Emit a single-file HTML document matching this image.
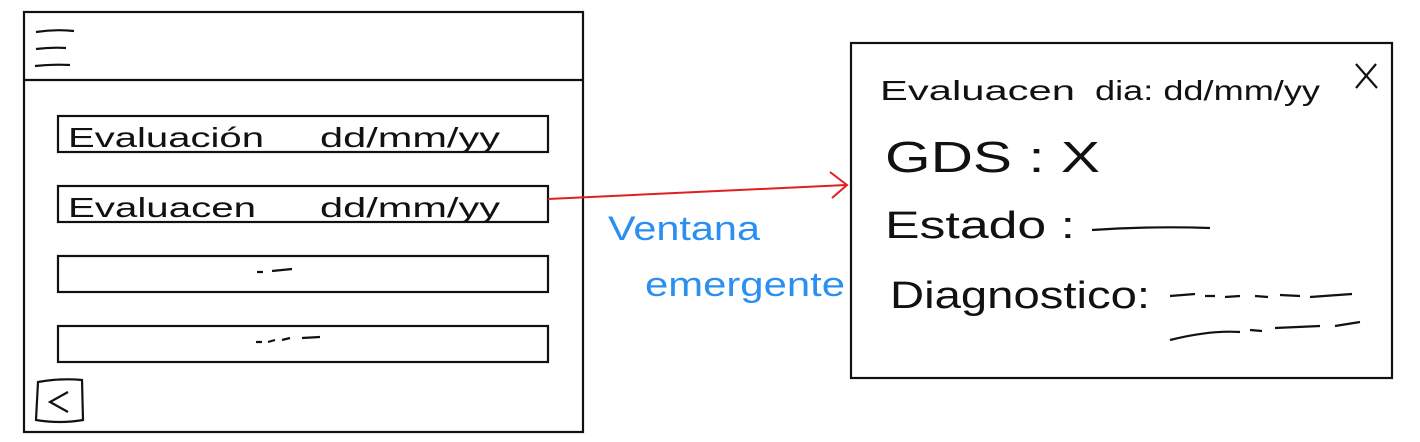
<!DOCTYPE html>
<html><head><meta charset="utf-8"><style>
html,body{margin:0;padding:0;background:#fff;width:1420px;height:442px;overflow:hidden}
svg{display:block}
text{font-family:"Liberation Sans",sans-serif;fill:#111}
</style></head><body>
<svg width="1420" height="442" viewBox="0 0 1420 442">
<g fill="none" stroke="#111" stroke-width="2.2">
<rect x="24" y="12" width="559" height="420"/>
<line x1="24" y1="80" x2="583" y2="80"/>
<g><path d="M36 32 Q55 29 74 31"/><path d="M36 49 Q52 47 66 48"/><path d="M35 66 Q52 64 70 65"/></g>
<rect x="58" y="116" width="490" height="36"/>
<rect x="58" y="186" width="490" height="36"/>
<rect x="58" y="256" width="490" height="36"/>
<rect x="58" y="326" width="490" height="36"/>
<path d="M38 382 Q60 378 82 380 L83 420 Q60 424 36 420 Z"/>
<path d="M68 392 L50 402 L68 412"/>
<path d="M257 272 L263 272 M272 271 L292 269"/>
<path d="M256 342 L262 342 M268 342 L275 340 M282 340 L290 338 M302 338 L320 337"/>
</g>
<text x="68" y="147" font-size="28" textLength="196" lengthAdjust="spacingAndGlyphs">Evaluación</text>
<text x="320" y="147" font-size="28" textLength="180" lengthAdjust="spacingAndGlyphs">dd/mm/yy</text>
<text x="68" y="217" font-size="28" textLength="188" lengthAdjust="spacingAndGlyphs">Evaluacen</text>
<text x="320" y="217" font-size="28" textLength="180" lengthAdjust="spacingAndGlyphs">dd/mm/yy</text>
<g stroke="#e02020" stroke-width="2" fill="none">
<path d="M548 199 L846 185"/><path d="M830 172 L847 185 L832 198"/>
</g>
<text x="608" y="240" font-size="34" textLength="152" lengthAdjust="spacingAndGlyphs" style="fill:#2a8ff0">Ventana</text>
<text x="645" y="296" font-size="34" textLength="200" lengthAdjust="spacingAndGlyphs" style="fill:#2a8ff0">emergente</text>
<g fill="none" stroke="#111" stroke-width="2.2">
<rect x="851" y="43" width="541" height="335"/>
<path d="M1356 64 L1377 88 M1376 64 L1356 88"/>
<path d="M1092 230 Q1150 226 1210 228"/>
<path d="M1170 296 L1195 294 M1205 296 L1215 296 M1225 297 L1240 296 M1255 296 L1268 297 M1280 295 L1300 296 M1310 297 L1352 294"/>
<path d="M1170 340 Q1210 330 1240 332 M1250 330 L1262 331 M1275 328 L1320 326 M1335 326 L1360 322"/>
</g>
<text x="880" y="100" font-size="28" textLength="195" lengthAdjust="spacingAndGlyphs">Evaluacen</text>
<text x="1095" y="100" font-size="28" textLength="225" lengthAdjust="spacingAndGlyphs">dia: dd/mm/yy</text>
<text x="885" y="172" font-size="44" textLength="215" lengthAdjust="spacingAndGlyphs">GDS : X</text>
<text x="885" y="238" font-size="38" textLength="190" lengthAdjust="spacingAndGlyphs">Estado :</text>
<text x="890" y="308" font-size="38" textLength="260" lengthAdjust="spacingAndGlyphs">Diagnostico:</text>
</svg>
</body></html>
